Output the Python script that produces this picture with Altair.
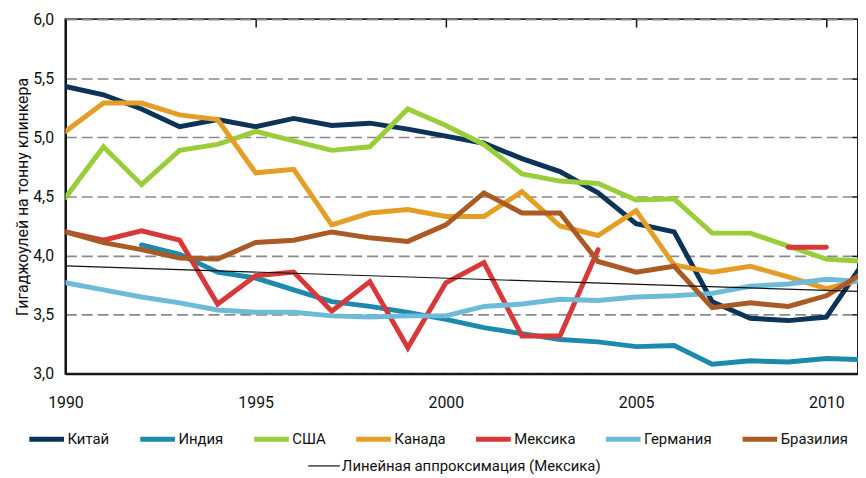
import altair as alt
import pandas as pd

years = list(range(1990, 2012))

series_names = ["Китай", "Индия", "США", "Канада", "Мексика", "Германия", "Бразилия"]
series_colors = ["#0c3458", "#1b8aad", "#9acd3a", "#e49e28", "#d7383a", "#6cbcd9", "#a95a25"]

china = [5.43, 5.36, 5.24, 5.09, 5.15, 5.09, 5.16, 5.10, 5.12, 5.07, 5.01, 4.95, 4.82, 4.71, 4.53, 4.27, 4.20, 3.61, 3.47, 3.45, 3.48, 3.95]
india = [None, None, 4.09, 4.01, 3.86, 3.81, 3.71, 3.61, 3.57, 3.52, 3.46, 3.39, 3.34, 3.29, 3.27, 3.23, 3.24, 3.08, 3.11, 3.10, 3.13, 3.12]
usa = [4.49, 4.92, 4.60, 4.89, 4.94, 5.05, 4.97, 4.89, 4.92, 5.24, 5.10, 4.94, 4.69, 4.63, 4.61, 4.47, 4.48, 4.19, 4.19, 4.08, 3.97, 3.95]
canada = [5.05, 5.29, 5.29, 5.19, 5.15, 4.70, 4.73, 4.26, 4.36, 4.39, 4.33, 4.33, 4.54, 4.25, 4.17, 4.38, 3.92, 3.86, 3.91, 3.82, 3.72, 3.80]
mexico = [4.20, 4.13, 4.21, 4.13, 3.59, 3.83, 3.86, 3.53, 3.78, 3.22, 3.77, 3.94, 3.32, 3.32, 4.05, None, None, None, None, 4.07, 4.07, None]
germany = [3.77, 3.71, 3.65, 3.60, 3.54, 3.52, 3.52, 3.49, 3.48, 3.49, 3.49, 3.57, 3.59, 3.63, 3.62, 3.65, 3.66, 3.68, 3.74, 3.76, 3.80, 3.78]
brazil = [4.20, 4.11, 4.05, 3.98, 3.97, 4.11, 4.13, 4.20, 4.15, 4.12, 4.26, 4.53, 4.36, 4.36, 3.95, 3.86, 3.91, 3.56, 3.60, 3.57, 3.66, 3.86]

trend_label = "Линейная аппроксимация (Мексика)"
y_title = "Гигаджоулей на тонну клинкера"
x_ticks = [1990, 1995, 2000, 2005, 2010]
y_ticks = [3.0, 3.5, 4.0, 4.5, 5.0, 5.5, 6.0]

FONT = "Roboto, Liberation Sans, sans-serif"

# build long table; segment id breaks lines at gaps
rows = []
for name, vals in zip(series_names, [china, india, usa, canada, mexico, germany, brazil]):
    seg = 0
    prev_none = True
    for yr, v in zip(years, vals):
        if v is None:
            prev_none = True
            continue
        if prev_none:
            seg += 1
            prev_none = False
        rows.append({"year": yr, "value": v, "country": name, "seg": f"{name}-{seg}"})
df = pd.DataFrame(rows)

x_dom = [1990, 1990 + 800 / 38.4]

x_main = alt.X("year:Q", scale=alt.Scale(domain=x_dom, nice=False, zero=False),
               axis=alt.Axis(values=x_ticks, format="d", title=None, grid=False, ticks=False,
                             domain=True, domainColor="#111", domainWidth=2,
                             labelFont=FONT, labelFontSize=16, labelColor="#111",
                             labelPadding=21, labelFlush=False))
y_main = alt.Y("value:Q", scale=alt.Scale(domain=[3.0, 6.0], nice=False, zero=False),
               axis=alt.Axis(values=y_ticks, title=y_title, ticks=False,
                             labelExpr="replace(format(datum.value, '.1f'), '.', ',')",
                             domain=True, domainColor="#111", domainWidth=2,
                             grid=True, gridColor="#8a8a8a", gridDash=[11, 5], gridWidth=1.6,
                             labelFont=FONT, labelFontSize=16, labelColor="#111", labelPadding=12,
                             titleFont=FONT, titleFontSize=16, titleFontWeight="normal",
                             titleColor="#111", titlePadding=2))

lines = alt.Chart(df).mark_line(strokeWidth=5, strokeCap="round", strokeJoin="miter", clip=True).encode(
    x=x_main,
    y=y_main,
    color=alt.Color("country:N",
                    scale=alt.Scale(domain=series_names, range=series_colors),
                    legend=alt.Legend(title=None, orient="none", legendX=-39, legendY=404,
                                      direction="horizontal", symbolType="stroke",
                                      symbolStrokeWidth=5, symbolSize=1225,
                                      labelFont=FONT, labelFontSize=15, labelColor="#111",
                                      labelOffset=1, columnPadding=20, padding=0,
                                      labelLimit=500)),
    detail="seg:N",
    order="year:Q",
)

x_ticklayer = alt.X("year:Q", scale=alt.Scale(domain=x_dom, nice=False, zero=False),
                    axis=alt.Axis(values=x_ticks[1:], title=None, labels=False, domain=False,
                                  grid=False, ticks=True, tickSize=8, tickWidth=1.5,
                                  tickColor="#111", offset=-8))
y_ticklayer = alt.Y("value:Q", scale=alt.Scale(domain=[3.0, 6.0], nice=False, zero=False),
                    axis=alt.Axis(values=y_ticks[1:-1], title=None, labels=False, domain=False,
                                  grid=False, ticks=True, tickSize=6, tickWidth=1.5,
                                  tickColor="#111", offset=-6))

trend = alt.Chart(df).transform_filter(
    alt.datum.country == "Мексика"
).transform_regression(
    "year", "value", method="linear", extent=[1990, 2012]
).transform_calculate(
    label=f"'{trend_label}'"
).mark_line(strokeWidth=1.2, clip=True).encode(
    x=x_ticklayer,
    y=y_ticklayer,
    color=alt.Color("label:N",
                    scale=alt.Scale(domain=[trend_label], range=["#111111"]),
                    legend=alt.Legend(title=None, orient="none", legendX=244, legendY=434,
                                      symbolType="stroke", symbolStrokeWidth=1.2,
                                      symbolSize=1024, labelFont=FONT, labelFontSize=15,
                                      labelColor="#111", labelOffset=1, padding=0,
                                      labelLimit=500)),
)

chart = alt.layer(lines, trend).resolve_scale(
    color="independent"
).resolve_axis(
    x="independent", y="independent"
).properties(
    width=800, height=358,
    autosize=alt.AutoSizeParams(type="none"),
    padding={"left": 58, "top": 9, "right": 0, "bottom": 108},
).configure_view(
    stroke="#222", strokeWidth=2
)

chart.save("out.html", embed_options={"renderer": "svg", "actions": False})
